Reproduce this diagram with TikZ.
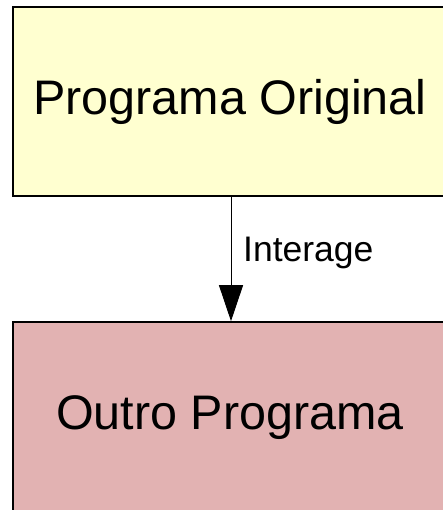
\documentclass[tikz,border=0pt]{standalone}
\usepackage{fontspec}
\setmainfont{Liberation Sans}
\usetikzlibrary{arrows.meta}
\definecolor{topfill}{HTML}{FFFFD0}
\definecolor{botfill}{HTML}{E2B2B2}
\tikzset{
  box/.style={draw=black, line width=1.6pt, minimum width=434pt, inner sep=0pt, font=\fontsize{48.5}{52}\selectfont},
  conn/.style={line width=1pt, -{Triangle[length=36pt,width=24pt]}},
  lbl/.style={font=\fontsize{35.5}{38}\selectfont, anchor=west, inner sep=0pt}
}
\begin{document}
\begin{tikzpicture}[x=1pt,y=1pt]
\useasboundingbox (0,0) rectangle (443,510);
\clip (0,0) rectangle (443,510);
\fill[white] (0,0) rectangle (443,510);
\node[box, fill=topfill, minimum height=189pt] (orig) at (230,408.5) {Programa Original};
\node[box, fill=botfill, minimum height=191pt] (outro) at (230,92.5) {Outro Programa};
\draw[conn] ([xshift=1pt]orig.south) -- ([xshift=1pt]outro.north);
\node[lbl] (inter) at (243,257.5) {Interage};
\end{tikzpicture}
\end{document}
